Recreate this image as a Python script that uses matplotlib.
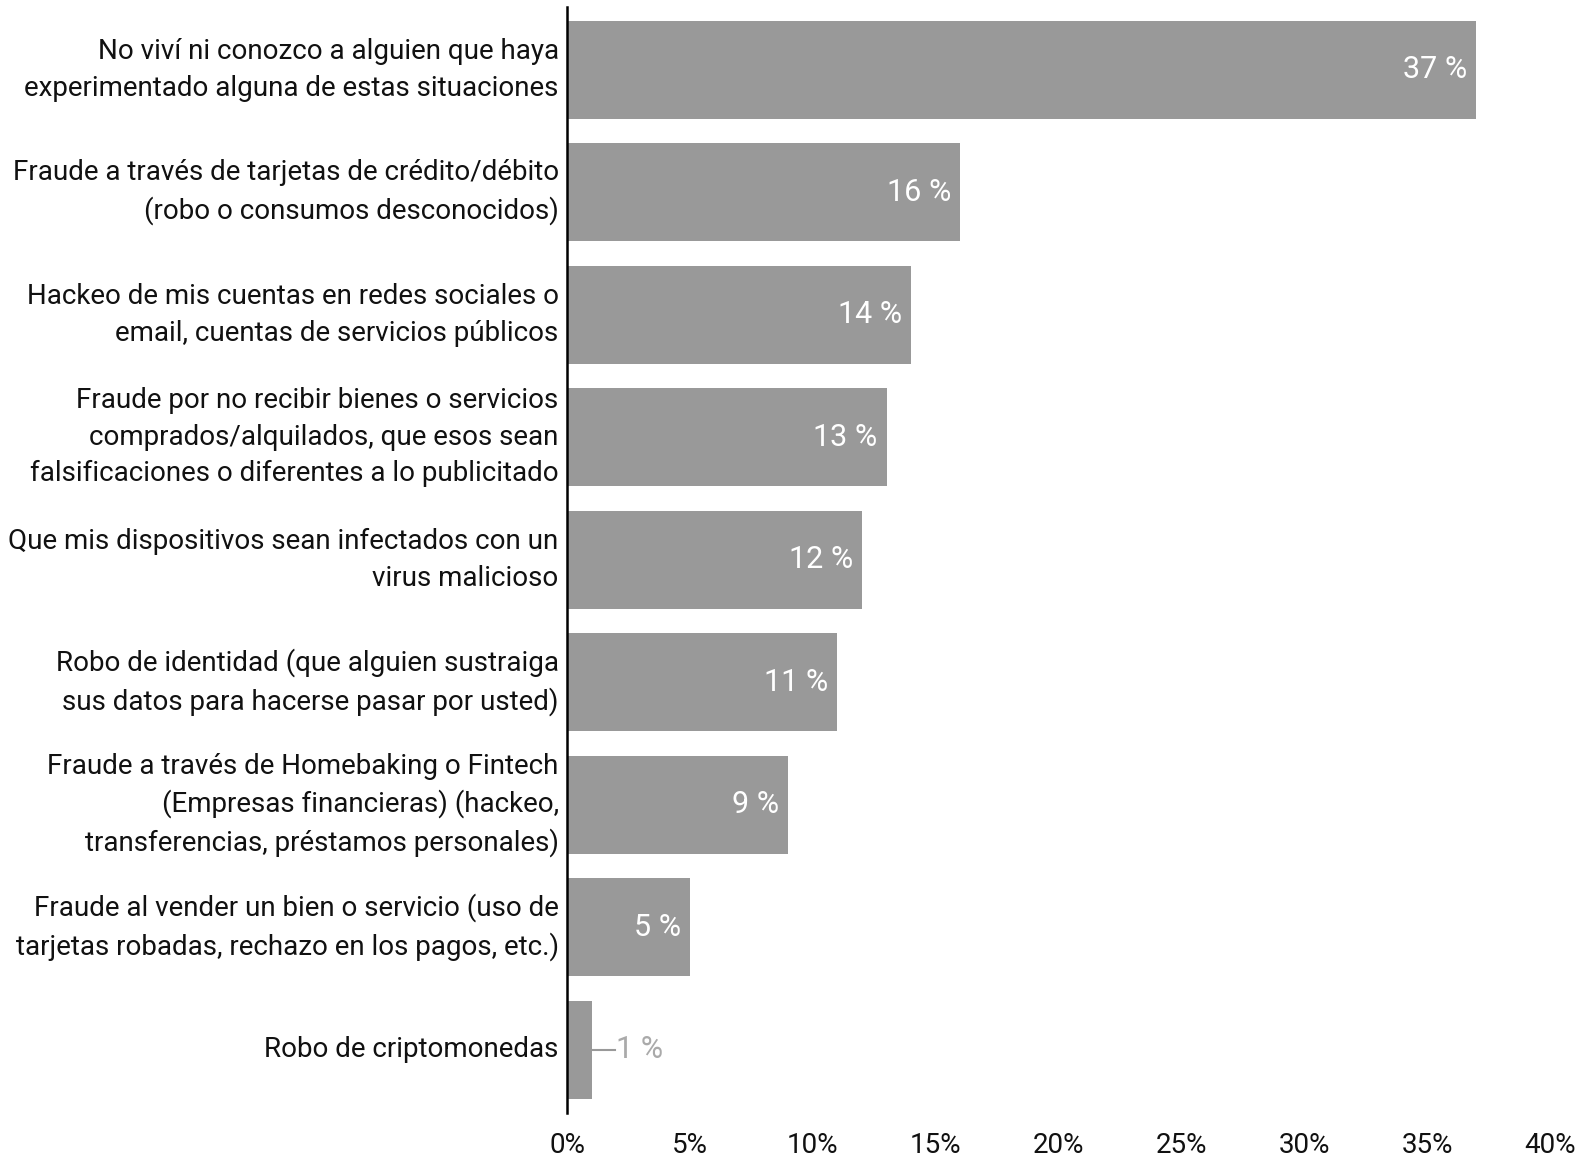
import matplotlib
matplotlib.use("Agg")
import matplotlib.pyplot as plt

plt.rcParams['font.family'] = ['Roboto', 'DejaVu Sans']

categorias = [
    "No viví ni conozco a alguien que haya\nexperimentado alguna de estas situaciones",
    "Fraude a través de tarjetas de crédito/débito\n(robo o consumos desconocidos)",
    "Hackeo de mis cuentas en redes sociales o\nemail, cuentas de servicios públicos",
    "Fraude por no recibir bienes o servicios\ncomprados/alquilados, que esos sean\nfalsificaciones o diferentes a lo publicitado",
    "Que mis dispositivos sean infectados con un\nvirus malicioso",
    "Robo de identidad (que alguien sustraiga\nsus datos para hacerse pasar por usted)",
    "Fraude a través de Homebaking o Fintech\n(Empresas financieras) (hackeo,\ntransferencias, préstamos personales)",
    "Fraude al vender un bien o servicio (uso de\ntarjetas robadas, rechazo en los pagos, etc.)",
    "Robo de criptomonedas",
]
valores = [37, 16, 14, 13, 12, 11, 9, 5, 1]
ticks = [0, 5, 10, 15, 20, 25, 30, 35, 40]

fig = plt.figure(figsize=(15.8, 11.58), dpi=100)
ax = fig.add_axes([0.3589, 0.039, 0.6222, 0.955])

y = list(range(len(valores)))
ax.barh(y, valores, height=0.8, color="#999999")
ax.set_ylim(len(valores) - 0.5 + 0.014, -0.514)
ax.set_xlim(0, 40)

for i, v in enumerate(valores):
    if v >= 3:
        ax.text(v - 0.37, i, f"{v} %", ha="right", va="center",
                color="white", fontsize=22)
    else:
        ax.plot([v, v + 0.95], [i, i], color="#999999", lw=1.5)
        ax.text(v + 1.0, i, f"{v} %", ha="left", va="center",
                color="#aaaaaa", fontsize=22)

ax.set_yticks(y)
ax.set_yticklabels(categorias, fontsize=20, color="#111111", linespacing=1.45)
for lab in ax.get_yticklabels():
    lab.set_va("center")
ax.set_xticks(ticks)
ax.set_xticklabels([f"{t}%" for t in ticks], fontsize=20, color="#111111")
ax.tick_params(axis="both", length=0)
ax.tick_params(axis="y", pad=6)
ax.tick_params(axis="x", pad=14)

for s in ["top", "right", "bottom"]:
    ax.spines[s].set_visible(False)
ax.spines["left"].set_linewidth(1.8)
ax.spines["left"].set_color("black")

fig.savefig("out.png", dpi=100)
